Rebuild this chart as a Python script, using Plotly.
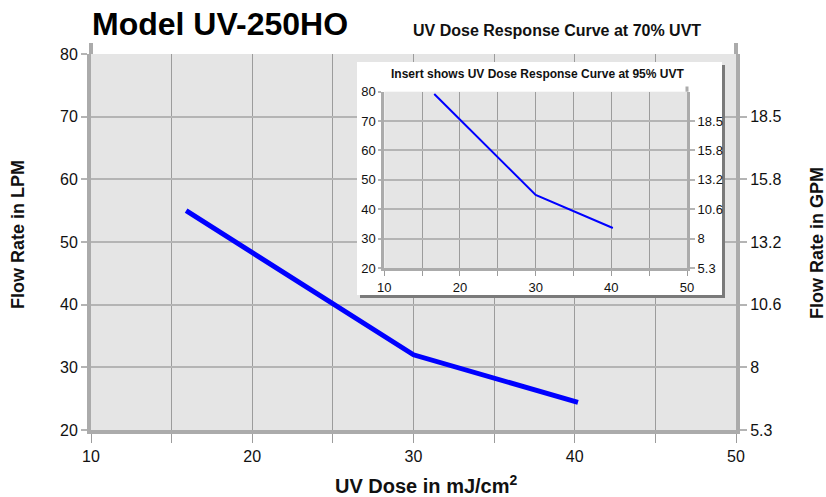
import plotly.graph_objects as go

# ---- data ----
dose_70 = [15.9, 30.0, 40.2]
flow_70 = [55.0, 32.0, 24.4]

dose_95 = [16.6, 30.0, 40.2]
flow_95 = [79.2, 44.9, 33.6]

x_ticks = [10, 15, 20, 25, 30, 35, 40, 45, 50]
x_tick_labels = ["10", "", "20", "", "30", "", "40", "", "50"]
lpm_ticks = [20, 30, 40, 50, 60, 70, 80]
gpm_ticks = [20, 30, 40, 50, 60, 70]
gpm_labels = ["5.3", "8", "10.6", "13.2", "15.8", "18.5"]

# ---- layout geometry ----
W, H = 826, 497
ML, MR, MT, MB = 91, 90, 54, 67
PW, PH = W - ML - MR, H - MT - MB
XR = [10, 50]
YR = [20, 80]


def px(x):
    return (x - ML) / PW


def py(y):
    return (H - MB - y) / PH


def dx(x):
    return XR[0] + (XR[1] - XR[0]) * px(x)


def dy(y):
    return YR[0] + (YR[1] - YR[0]) * py(y)


FONT = "Liberation Sans, Arial, sans-serif"
AXIS_LINE = "#ababab"
GRID_X = "#9c9c9c"
GRID_Y = "#b4b4b4"
BG = "#e5e5e5"

fig = go.Figure()

fig.add_trace(go.Scatter(x=dose_70, y=flow_70, mode="lines",
                         line=dict(color="#0000ff", width=5),
                         xaxis="x", yaxis="y", showlegend=False, hoverinfo="x+y"))
fig.add_trace(go.Scatter(x=dose_70, y=flow_70, mode="lines", opacity=0,
                         line=dict(width=0), xaxis="x", yaxis="y2",
                         showlegend=False, hoverinfo="skip"))
fig.add_trace(go.Scatter(x=dose_95, y=flow_95, mode="lines",
                         line=dict(color="#0000ff", width=2),
                         xaxis="x2", yaxis="y3", showlegend=False, hoverinfo="x+y"))
fig.add_trace(go.Scatter(x=dose_95, y=flow_95, mode="lines", opacity=0,
                         line=dict(width=0), xaxis="x2", yaxis="y4",
                         showlegend=False, hoverinfo="skip"))

tick_font = dict(family=FONT, size=16, color="#111")
inset_font = dict(family=FONT, size=13, color="#111")

inset_x = [px(384.3), px(687)]
inset_y = [py(268), py(91.7)]

fig.update_layout(
    width=W, height=H,
    margin=dict(l=ML, r=MR, t=MT, b=MB),
    paper_bgcolor="white",
    plot_bgcolor=BG,
    font=dict(family=FONT, color="#111"),
    xaxis=dict(range=XR, domain=[0, 1], anchor="y",
               tickvals=x_ticks, ticktext=x_tick_labels,
               showgrid=True, gridcolor=GRID_X, gridwidth=1,
               ticks="outside", ticklen=9, tickcolor=GRID_X, tickwidth=1,
               showline=True, linewidth=4, linecolor=AXIS_LINE,
               zeroline=False, tickfont=tick_font, fixedrange=True),
    yaxis=dict(range=YR, domain=[0, 1], anchor="x",
               tickvals=lpm_ticks,
               showgrid=True, gridcolor=GRID_Y, gridwidth=2,
               ticks="outside", ticklen=6, tickcolor=GRID_Y, tickwidth=2,
               showline=True, linewidth=4, linecolor=AXIS_LINE,
               zeroline=False, tickfont=tick_font, fixedrange=True),
    yaxis2=dict(range=YR, overlaying="y", side="right", anchor="x",
                tickvals=gpm_ticks, ticktext=gpm_labels,
                showgrid=False, ticks="outside", ticklen=7,
                tickcolor=GRID_Y, tickwidth=2,
                showline=True, linewidth=4, linecolor=AXIS_LINE,
                zeroline=False, tickfont=tick_font, fixedrange=True),
    xaxis2=dict(range=XR, domain=inset_x, anchor="y3",
                tickvals=x_ticks, ticktext=x_tick_labels,
                showgrid=True, gridcolor=GRID_X, gridwidth=1,
                ticks="outside", ticklen=5, tickcolor=GRID_X, tickwidth=1,
                showline=True, linewidth=3, linecolor=AXIS_LINE,
                zeroline=False, tickfont=inset_font, fixedrange=True),
    yaxis3=dict(range=YR, domain=inset_y, anchor="x2",
                tickvals=lpm_ticks,
                showgrid=True, gridcolor=GRID_Y, gridwidth=1.5,
                ticks="outside", ticklen=3, tickcolor=GRID_Y, tickwidth=1.5,
                showline=True, linewidth=3, linecolor=AXIS_LINE,
                zeroline=False, tickfont=inset_font, fixedrange=True),
    yaxis4=dict(range=YR, overlaying="y3", side="right", anchor="x2",
                tickvals=gpm_ticks, ticktext=gpm_labels,
                showgrid=False, ticks="outside", ticklen=5,
                tickcolor=GRID_Y, tickwidth=1.5,
                showline=True, linewidth=3, linecolor=AXIS_LINE,
                zeroline=False, tickfont=inset_font, fixedrange=True),
)

# white inset panel with drop shadow (above main grid, below traces)
bx0, bx1, by0, by1 = 357, 722, 295, 62
fig.add_shape(type="rect", xref="x", yref="y", layer="between",
              x0=dx(bx0 + 3), x1=dx(bx1 + 3), y0=dy(by0 + 3), y1=dy(by1 + 3),
              fillcolor="#7a7a7a", line=dict(width=0))
fig.add_shape(type="rect", xref="x", yref="y", layer="between",
              x0=dx(bx0), x1=dx(bx1), y0=dy(by0), y1=dy(by1),
              fillcolor="white", line=dict(width=0))

# axis line extensions above the top gridline
for xx in (0, 1):
    fig.add_shape(type="line", xref="paper", yref="paper", layer="above",
                  x0=xx, x1=xx, y0=1, y1=py(43),
                  line=dict(color=AXIS_LINE, width=4))
fig.add_shape(type="line", xref="paper", yref="paper", layer="above",
              x0=inset_x[1], x1=inset_x[1], y0=inset_y[1], y1=py(86.5),
              line=dict(color=AXIS_LINE, width=3))

annotations = [
    dict(text="<b>Model UV-250HO</b>", x=px(90), y=py(24), xanchor="left",
         yanchor="middle", font=dict(size=32, family=FONT, color="#000")),
    dict(text="<b>UV Dose Response Curve at 70% UVT</b>", x=px(557), y=py(30),
         xanchor="center", yanchor="middle",
         font=dict(size=16, family=FONT, color="#111")),
    dict(text="<b>Insert shows UV Dose Response Curve at 95% UVT</b>",
         x=px(537), y=py(73.5), xanchor="center", yanchor="middle",
         font=dict(size=12, family=FONT, color="#111")),
    dict(text="<b>UV Dose in mJ/cm<sup>2</sup></b>", x=px(426), y=py(485),
         xanchor="center", yanchor="middle",
         font=dict(size=20, family=FONT, color="#111")),
    dict(text="<b>Flow Rate in LPM</b>", x=px(18), y=py(235), textangle=-90,
         xanchor="center", yanchor="middle",
         font=dict(size=18, family=FONT, color="#111")),
    dict(text="<b>Flow Rate in GPM</b>", x=px(817), y=py(243), textangle=-90,
         xanchor="center", yanchor="middle",
         font=dict(size=18, family=FONT, color="#111")),
]
for a in annotations:
    a.update(xref="paper", yref="paper", showarrow=False)
fig.update_layout(annotations=annotations)

fig.write_html("out.html", config={"displayModeBar": False},
               post_script="document.body.style.margin='0';document.body.style.padding='0';")
